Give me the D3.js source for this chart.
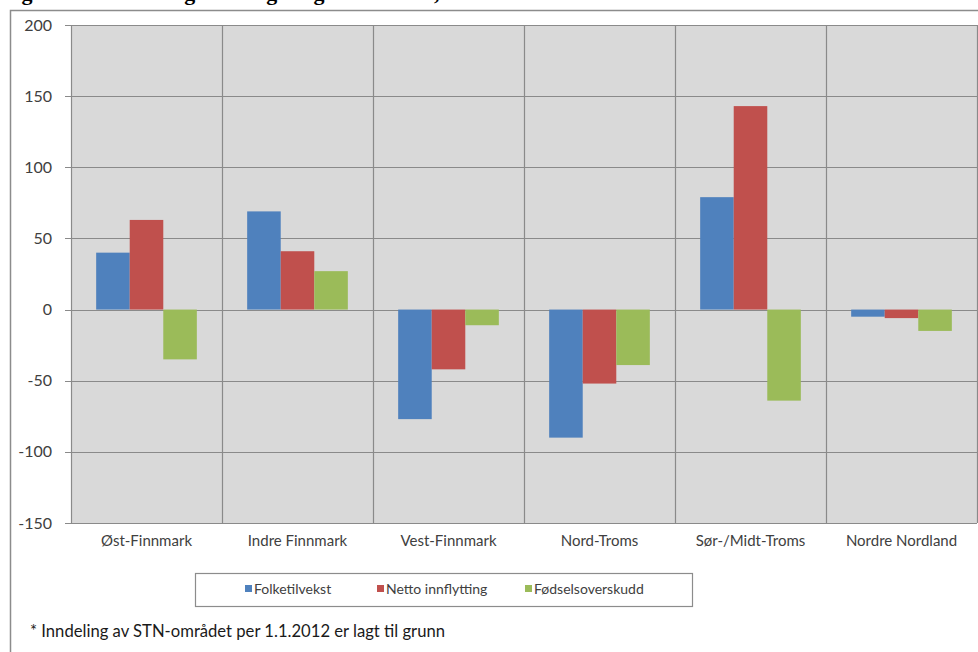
<!DOCTYPE html>
<html>
<head>
<meta charset="utf-8">
<script src="https://cdn.jsdelivr.net/npm/d3@7"></script>
<style>
  html, body { margin: 0; padding: 0; background: #ffffff; }
  svg { display: block; }
  text { font-family: Lato, "Open Sans", "DejaVu Sans", sans-serif; }
</style>
</head>
<body>
<svg id="chart" width="978" height="652"></svg>
<script>
const categories = ["Øst-Finnmark", "Indre Finnmark", "Vest-Finnmark", "Nord-Troms", "Sør-/Midt-Troms", "Nordre Nordland"];
const seriesNames = ["Folketilvekst", "Netto innflytting", "Fødselsoverskudd"];
const folketilvekst = [40, 69, -77, -90, 79, -5];
const nettoInnflytting = [63, 41, -42, -52, 143, -6];
const fodselsoverskudd = [-35, 27, -11, -39, -64, -15];
const yTicks = [-150, -100, -50, 0, 50, 100, 150, 200];
const colors = ["#4F81BD", "#C0504D", "#9BBB59"];
const titleText = "Figur 2.3 Befolkningsendring i regionene 2011, STN-området*";
const footnote = "* Inndeling av STN-området per 1.1.2012 er lagt til grunn";

const seriesValues = [folketilvekst, nettoInnflytting, fodselsoverskudd];

const svg = d3.select("#chart");
const W = 978, H = 652;
const plot = { left: 71, right: 977, top: 25, bottom: 523 };

// title, cut off at the top edge as in the reference
svg.append("text")
  .attr("x", 2).attr("y", 0)
  .attr("font-weight", "bold")
  .attr("font-size", 22)
  .attr("fill", "#000")
  .style("font-family", "'Liberation Serif', 'DejaVu Serif', serif")
  .text(titleText);

// outer frame
svg.append("rect")
  .attr("x", 10.5).attr("y", 10.5)
  .attr("width", W + 10).attr("height", H + 10)
  .attr("fill", "#ffffff")
  .attr("stroke", "#8c8c8c").attr("stroke-width", 1.5);

const x0 = d3.scaleBand().domain(categories).range([plot.left, plot.right]).paddingInner(0).paddingOuter(0);
const x1 = d3.scaleBand().domain(seriesNames).range([0, x0.bandwidth()]).paddingInner(0).paddingOuter(0.75);
const y = d3.scaleLinear().domain([-150, 200]).range([plot.bottom, plot.top]);

// plot area background
svg.append("rect")
  .attr("x", plot.left).attr("y", plot.top)
  .attr("width", plot.right - plot.left).attr("height", plot.bottom - plot.top)
  .attr("fill", "#d9d9d9");

// horizontal gridlines
svg.append("g").selectAll("line").data(yTicks).join("line")
  .attr("x1", plot.left - 6).attr("x2", plot.right)
  .attr("y1", d => Math.round(y(d)) + 0.5).attr("y2", d => Math.round(y(d)) + 0.5)
  .attr("stroke", "#8a8a8a").attr("stroke-width", 1.2);

// vertical category separators
const seps = categories.map(c => x0(c)).concat([plot.right]);
svg.append("g").selectAll("line").data(seps).join("line")
  .attr("x1", d => Math.round(d) + 0.5).attr("x2", d => Math.round(d) + 0.5)
  .attr("y1", plot.top).attr("y2", plot.bottom)
  .attr("stroke", "#8a8a8a").attr("stroke-width", 1.2);

// bars
const barG = svg.append("g");
categories.forEach((c, ci) => {
  seriesNames.forEach((s, si) => {
    const v = seriesValues[si][ci];
    barG.append("rect")
      .attr("x", x0(c) + x1(s))
      .attr("width", x1.bandwidth())
      .attr("y", y(Math.max(0, v)))
      .attr("height", Math.abs(y(v) - y(0)))
      .attr("fill", colors[si]);
  });
});

// y axis labels
const yAxis = d3.axisLeft(y).tickValues(yTicks).tickSize(0).tickPadding(0).tickFormat(d => String(d));
const yg = svg.append("g").attr("transform", `translate(${plot.left - 19},0)`).call(yAxis);
yg.select(".domain").remove();
yg.selectAll("text").attr("font-size", 16).attr("fill", "#404040")
  .attr("font-family", "Lato, 'Open Sans', sans-serif");

// x axis labels
const xAxis = d3.axisBottom(x0).tickSize(0).tickPadding(0);
const xg = svg.append("g").attr("transform", `translate(0,${plot.bottom + 12})`).call(xAxis);
xg.select(".domain").remove();
xg.selectAll("text").attr("font-size", 15).attr("fill", "#404040")
  .attr("font-family", "Lato, 'Open Sans', sans-serif");

// legend
const legend = svg.append("g");
legend.append("rect")
  .attr("x", 195.5).attr("y", 573.5).attr("width", 497).attr("height", 33)
  .attr("fill", "#ffffff").attr("stroke", "#8c8c8c").attr("stroke-width", 1.2);
const legendX = [245, 377, 525];
seriesNames.forEach((s, i) => {
  legend.append("rect").attr("x", legendX[i]).attr("y", 585).attr("width", 7).attr("height", 7).attr("fill", colors[i]);
  legend.append("text").attr("x", legendX[i] + 9).attr("y", 594)
    .attr("font-size", 14).attr("fill", "#404040").text(s);
});

// footnote
svg.append("text").attr("x", 30).attr("y", 637)
  .attr("font-size", 18).attr("fill", "#1a1a1a")
  .attr("textLength", 415).attr("lengthAdjust", "spacingAndGlyphs")
  .text(footnote);
</script>
</body>
</html>
